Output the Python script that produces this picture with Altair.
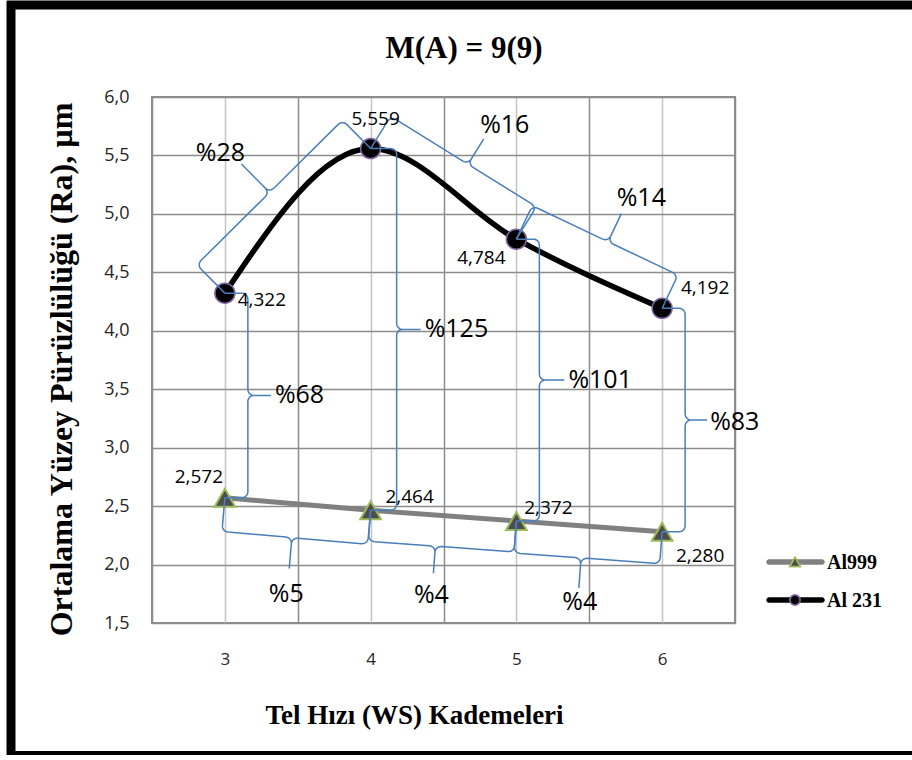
import math
import altair as alt
import pandas as pd

# ---------------- data ----------------
stages = [3, 4, 5, 6]
al999 = [2.572, 2.464, 2.372, 2.280]
al231 = [4.322, 5.559, 4.784, 4.192]
al999_text = ["2,572", "2,464", "2,372", "2,280"]
al231_text = ["4,322", "5,559", "4,784", "4,192"]
series_names = ["Al999", "Al 231"]
pct_al231 = ["%28", "%16", "%14"]
pct_between = ["%68", "%125", "%101", "%83"]
pct_al999 = ["%5", "%4", "%4"]
y_ticks = [1.5, 2.0, 2.5, 3.0, 3.5, 4.0, 4.5, 5.0, 5.5, 6.0]
x_grid = [2.5, 3.0, 3.5, 4.0, 4.5, 5.0, 5.5, 6.0, 6.5]
chart_title = "M(A) = 9(9)"
x_title = "Tel Hızı (WS) Kademeleri"
y_title = "Ortalama Yüzey Pürüzlülüğü (Ra), µm"

# ---------------- geometry helpers ----------------
W, H = 583, 526
XD = (2.5, 6.5)
YD = (1.5, 6.0)


def to_px(x, y):
    return ((x - XD[0]) / (XD[1] - XD[0]) * W, (YD[1] - y) / (YD[1] - YD[0]) * H)


def to_data(px, py):
    return (XD[0] + px / W * (XD[1] - XD[0]), YD[1] - py / H * (YD[1] - YD[0]))


def brace(p1, p2, hint, d, t, f, c=6.0, n_arc=6):
    (x1, y1), (x2, y2) = p1, p2
    L = math.hypot(x2 - x1, y2 - y1)
    ux, uy = (x2 - x1) / L, (y2 - y1) / L
    nx, ny = uy, -ux
    if nx * hint[0] + ny * hint[1] < 0:
        nx, ny = -nx, -ny
    m = f * L
    loc = [(0.0, 0.0)]

    def arc(cu, cv, a0, a1):
        for k in range(n_arc + 1):
            a = a0 + (a1 - a0) * k / n_arc
            loc.append((cu + c * math.cos(a), cv + c * math.sin(a)))

    arc(c, d - c, math.pi, math.pi / 2)
    arc(m - c, d + c, -math.pi / 2, 0)
    loc.append((m, d + t))
    arc(m + c, d + c, math.pi, 1.5 * math.pi)
    arc(L - c, d - c, math.pi / 2, 0)
    loc.append((L, 0.0))
    pts = [(x1 + u * ux + v * nx, y1 + u * uy + v * ny) for u, v in loc]
    tip = (x1 + m * ux + (d + t) * nx, y1 + m * uy + (d + t) * ny)
    return pts, tip


p231 = [to_px(x, y) for x, y in zip(stages, al231)]
p999 = [to_px(x, y) for x, y in zip(stages, al999)]

brace_rows = []
center_labels = []
left_labels = []
bid = 0


def add_brace(p1, p2, hint, d, t, f, label, kind, off):
    global bid
    pts, tip = brace(p1, p2, hint, d, t, f)
    for k, (px, py) in enumerate(pts):
        x, y = to_data(px, py)
        brace_rows.append({"id": bid, "k": k, "x": x, "y": y})
    bid += 1
    x, y = to_data(tip[0] + off[0], tip[1] + off[1])
    (left_labels if kind == "left" else center_labels).append({"x": x, "y": y, "t": label})


# brace styles: (d, t, tip fraction, label offset px)
diag_style = [(40, 40, 0.5, (-21, -11)), (38, 30, 0.53, (21, -14)), (37, 31, 0.52, (20, -16))]
vert_style = [(23, 23, 0.5, (4, 0)), (26, 24, 0.5, (4, 0)), (23, 25, 0.5, (4, 0)), (23, 22, 0.5, (3, 2))]
bot_style = [(34, 31, 0.48, (-3, 25)), (31, 27, 0.46, (-2, 22)), (32, 30, 0.46, (1, 14))]

for i in range(3):
    d, t, f, off = diag_style[i]
    add_brace(p231[i], p231[i + 1], (0, -1), d, t, f, pct_al231[i], "center", off)
for i in range(4):
    d, t, f, off = vert_style[i]
    add_brace(p231[i], p999[i], (1, 0), d, t, f, pct_between[i], "left", off)
for i in range(3):
    d, t, f, off = bot_style[i]
    add_brace(p999[i], p999[i + 1], (0, 1), d, t, f, pct_al999[i], "center", off)

df_brace = pd.DataFrame(brace_rows)
df_center = pd.DataFrame(center_labels)
df_left = pd.DataFrame(left_labels)

df999 = pd.DataFrame({"x": stages, "y": al999})
df231 = pd.DataFrame({"x": stages, "y": al231})

# data label offsets (pixels, label centre relative to the point)
off231 = [(37, 7), (5, -30), (-35, 19), (43, -20)]
off999 = [(-26, -21), (39, -13), (32, -13), (38, 24)]
lab_rows = []
for pts, texts, offs in ((p231, al231_text, off231), (p999, al999_text, off999)):
    for (px, py), txt, (dx, dy) in zip(pts, texts, offs):
        x, y = to_data(px + dx, py + dy)
        lab_rows.append({"x": x, "y": y, "t": txt})
df_lab = pd.DataFrame(lab_rows)

# ---------------- encodings ----------------
x_axis = alt.Axis(
    values=x_grid,
    labelExpr="datum.value % 1 == 0 ? format(datum.value, 'd') : ''",
    grid=True,
    gridColor={"condition": {"test": "datum.value % 1 == 0", "value": "#c4c4c4"}, "value": "#8c8c8c"},
    gridWidth=1.5,
    ticks=False,
    domain=False,
    labelFont="Open Sans",
    labelFontSize=17,
    labelColor="#262626",
    labelPadding=28,
    title=x_title,
    titleFont="Liberation Serif",
    titleFontWeight="bold",
    titleFontSize=27,
    titleColor="black",
    titleX=262,
    titleY=100,
    titleAlign="center",
    titleBaseline="alphabetic",
    titleAngle=0,
)
y_axis = alt.Axis(
    values=y_ticks,
    labelExpr="replace(format(datum.value, '.1f'), '.', ',')",
    grid=True,
    gridColor="#8c8c8c",
    gridWidth=1.5,
    ticks=False,
    domain=False,
    labelFont="Open Sans",
    labelFontSize=18,
    labelColor="#262626",
    labelPadding=23,
    title=y_title,
    titleFont="Liberation Serif",
    titleFontWeight="bold",
    titleFontSize=32,
    titleColor="black",
    titleX=-91,
    titleY=272,
    titleAngle=270,
    titleAlign="center",
    titleBaseline="middle",
)

X = alt.X("x:Q", scale=alt.Scale(domain=list(XD), nice=False, zero=False), axis=x_axis)
Y = alt.Y("y:Q", scale=alt.Scale(domain=list(YD), nice=False, zero=False), axis=y_axis)

line999 = alt.Chart(df999).mark_line(color="#808080", strokeWidth=5).encode(x=X, y=Y)
line231 = alt.Chart(df231).mark_line(color="black", strokeWidth=5.5, interpolate="monotone").encode(x=X, y=Y)

pts999 = alt.Chart(df999).mark_point(
    shape="triangle-up", size=430, filled=True, fill="#4d4d4d", stroke="#9bbb59", strokeWidth=2, opacity=1
).encode(x=X, y=Y)
pts231 = alt.Chart(df231).mark_point(
    shape="circle", size=400, filled=True, fill="black", stroke="#8064a2", strokeWidth=1.5, opacity=1
).encode(x=X, y=Y)

braces = alt.Chart(df_brace).mark_line(color="#4a7ebb", strokeWidth=1.5).encode(
    x=X, y=Y, detail="id:N", order="k:Q"
)

data_labels = alt.Chart(df_lab).mark_text(
    font="Open Sans", fontSize=19, color="black", align="center", baseline="middle"
).encode(x=X, y=Y, text="t:N")

pct_center = alt.Chart(df_center).mark_text(
    font="Open Sans", fontSize=25, color="black", align="center", baseline="middle"
).encode(x=X, y=Y, text="t:N")
pct_left = alt.Chart(df_left).mark_text(
    font="Open Sans", fontSize=25, color="black", align="left", baseline="middle"
).encode(x=X, y=Y, text="t:N")

# title
title_mark = alt.Chart(pd.DataFrame({"t": [chart_title]})).mark_text(
    font="Liberation Serif", fontWeight="bold", fontSize=31, color="black", align="center", baseline="alphabetic"
).encode(x=alt.value(312), y=alt.value(-39), text="t:N")

# legend (drawn by hand: line + marker + name)
leg_df = pd.DataFrame({"t": series_names})
leg999_line = alt.Chart(leg_df).mark_rule(color="#808080", strokeWidth=5, strokeCap="round").encode(
    x=alt.value(617), x2=alt.value(670), y=alt.value(465)
)
leg999_pt = alt.Chart(leg_df).mark_point(
    shape="triangle-up", size=110, filled=True, fill="#4d4d4d", stroke="#9bbb59", strokeWidth=1.5, opacity=1
).encode(x=alt.value(643), y=alt.value(465))
leg231_line = alt.Chart(leg_df).mark_rule(color="black", strokeWidth=5, strokeCap="round").encode(
    x=alt.value(617), x2=alt.value(670), y=alt.value(503)
)
leg231_pt = alt.Chart(leg_df).mark_point(
    shape="circle", size=100, filled=True, fill="black", stroke="#8064a2", strokeWidth=1.5, opacity=1
).encode(x=alt.value(643), y=alt.value(503))
leg_text999 = alt.Chart(pd.DataFrame({"t": [series_names[0]]})).mark_text(
    font="Liberation Serif", fontWeight="bold", fontSize=20, color="black", align="left", baseline="middle"
).encode(x=alt.value(675), y=alt.value(466), text="t:N")
leg_text231 = alt.Chart(pd.DataFrame({"t": [series_names[1]]})).mark_text(
    font="Liberation Serif", fontWeight="bold", fontSize=20, color="black", align="left", baseline="middle"
).encode(x=alt.value(675), y=alt.value(504), text="t:N")

# outer frame: left, top and bottom edges (the right edge lies beyond the picture)
one = leg_df.head(1)
frame_left = alt.Chart(one).mark_rule(color="black", strokeWidth=9).encode(
    x=alt.value(-141), y=alt.value(-96), y2=alt.value(662)
)
frame_top = alt.Chart(one).mark_rule(color="black", strokeWidth=9).encode(
    x=alt.value(-145), x2=alt.value(800), y=alt.value(-92)
)
frame_bottom = alt.Chart(one).mark_rule(color="black", strokeWidth=6).encode(
    x=alt.value(-145), x2=alt.value(800), y=alt.value(657)
)

chart = alt.layer(
    line999, line231, pts999, pts231, braces, data_labels, pct_center, pct_left,
    title_mark, leg999_line, leg999_pt, leg231_line, leg231_pt, leg_text999, leg_text231,
    frame_left, frame_top, frame_bottom
).properties(
    width=W,
    height=H,
    autosize=alt.AutoSizeParams(type="none"),
    padding={"left": 152, "top": 97, "right": 177, "bottom": 132},
    background="white",
).configure_view(stroke="#8c8c8c", strokeWidth=2)

chart.save("out.html", embed_options={"renderer": "svg", "actions": False})
